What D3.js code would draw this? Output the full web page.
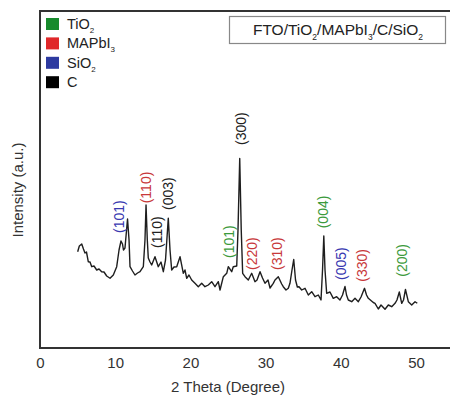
<!DOCTYPE html>
<html>
<head>
<meta charset="utf-8">
<script src="https://cdn.jsdelivr.net/npm/d3@7"></script>
<style>
  body { margin: 0; background: #fff; }
  svg { display: block; font-family: "Liberation Sans", Arial, sans-serif; }
</style>
</head>
<body>
<svg id="chart" width="450" height="397"></svg>
<script>
// XRD pattern (2 theta in degrees, intensity in a.u.)
var twoTheta = [5.01, 5.23, 5.55, 5.78, 5.98, 6.18, 6.42, 6.65, 6.88, 7.18, 7.54, 7.85, 8.20, 8.51, 8.87, 9.31, 9.75,
  10.20, 10.51, 10.77, 10.97, 11.10, 11.30, 11.64, 11.84, 11.97, 12.30, 12.63, 12.97, 13.30, 13.74, 13.96, 14.10,
  14.27, 14.40, 14.63, 14.85, 15.29, 15.73, 16.09, 16.40, 16.69, 17.06, 17.29, 17.51, 17.82, 18.18, 18.62, 19.06,
  19.28, 19.51, 19.81, 20.17, 20.61, 21.05, 21.50, 21.94, 22.38, 22.83, 23.27, 23.71, 23.94, 24.38, 24.83, 25.04,
  25.49, 25.70, 26.16, 26.33, 26.56, 26.76, 26.95, 27.26, 27.70, 28.15, 28.59, 28.86, 29.26, 29.59, 29.92, 30.32,
  30.59, 31.02, 31.25, 31.69, 32.14, 32.35, 32.71, 33.02, 33.24, 33.51, 33.74, 33.98, 34.22, 34.44, 34.80, 35.24,
  35.68, 36.13, 36.57, 37.01, 37.37, 37.57, 37.74, 37.90, 38.12, 38.56, 39.00, 39.45, 39.89, 40.23, 40.56, 40.76,
  41.00, 41.45, 41.89, 42.33, 42.69, 43.15, 43.42, 43.66, 44.32, 44.55, 44.99, 45.35, 45.88, 46.32, 46.77, 47.21,
  47.47, 47.78, 48.10, 48.34, 48.60, 48.98, 49.43, 49.87, 50.17];
var intensity = [96.3, 102, 104, 99, 95, 96, 86.3, 86, 81.3, 82, 78, 79, 76.3, 76, 72, 69.7, 73,
  81.3, 98, 107, 104, 98, 100, 129, 108, 81.3, 77, 73, 75, 76.3, 81.3, 108, 143,
  108, 90, 86, 83, 91.3, 81.3, 86, 76.3, 88, 129.7, 98, 78, 81, 81.3, 91.3, 74.7,
  78, 69.7, 73, 68, 64.7, 61.3, 64.7, 61.3, 63, 66.3, 61.3, 66.3, 58, 71.3, 74.7, 81.3,
  76.3, 81.3, 82, 118, 189.5, 118, 74.7, 71.3, 68, 74.7, 66.3, 68, 76.3, 70, 64.7, 68,
  60, 64.7, 68, 71.3, 64, 61.3, 58, 59.7, 64.7, 78, 88.5, 68, 61, 61.3, 58, 59.7,
  53, 56.3, 51.3, 53, 48, 78, 112, 78, 54.7, 56, 49.7, 51.3, 48, 53, 61.5, 53,
  48, 46.3, 49.7, 46.3, 51, 59.7, 53, 49.7, 45.5, 44.7, 39, 43, 38.7, 43, 41.3, 44.7,
  48, 56, 44.7, 48, 58.5, 46.3, 43, 46.3, 44.7];

// peak assignments: label, phase, 2 theta, intensity where the label starts
var peakLabels = ["(101)", "(110)", "(110)", "(003)", "(101)", "(300)", "(220)", "(310)", "(004)", "(005)", "(330)", "(200)"];
var peakPhases = ["SiO2", "MAPbI3", "C", "C", "TiO2", "C", "MAPbI3", "MAPbI3", "TiO2", "SiO2", "MAPbI3", "TiO2"];
var peakTheta = [10.57, 14.10, 15.63, 17.09, 25.13, 26.73, 28.26, 31.58, 37.63, 40.09, 42.89, 48.14];
var peakLevel = [115, 144.7, 100, 138, 90, 203, 78, 78, 119.7, 68, 66.3, 71.3];

var phases = ["TiO2", "MAPbI3", "SiO2", "C"];
var phaseBase = ["TiO", "MAPbI", "SiO", "C"];
var phaseSub = ["2", "3", "2", ""];
var xTicks = [0, 10, 20, 30, 40, 50];

var svg = d3.select("#chart");
var plotLeft = 40, plotTop = 11, plotBottom = 348;

var x = d3.scaleLinear().domain([0, 50]).range([plotLeft, 416]);
var y = d3.scaleLinear().domain([0, 337]).range([plotBottom, plotTop]);

var phaseColor = d3.scaleOrdinal().domain(phases).range(["#178a2c", "#e0282a", "#2d3aa0", "#000000"]);
var labelColor = d3.scaleOrdinal().domain(phases).range(["#3c9a3c", "#c8383a", "#3838b0", "#222222"]);

// frame (right side runs off the picture)
svg.append("path")
  .attr("d", "M" + x(56) + "," + plotTop + "H" + plotLeft + "V" + plotBottom + "H" + x(56))
  .attr("fill", "none")
  .attr("stroke", "#333")
  .attr("stroke-width", 2);

// x axis labels only, no ticks
var xAxis = d3.axisBottom(x).tickValues(xTicks).tickSize(0).tickPadding(9);
var gx = svg.append("g").attr("transform", "translate(0," + plotBottom + ")").call(xAxis);
gx.select(".domain").remove();
gx.selectAll("text").attr("font-size", 15).attr("fill", "#333").attr("font-family", "Liberation Sans, Arial, sans-serif");

svg.append("text")
  .attr("x", x(25))
  .attr("y", 392)
  .attr("text-anchor", "middle")
  .attr("font-size", 15)
  .attr("fill", "#333")
  .text("2 Theta (Degree)");

svg.append("text")
  .attr("transform", "translate(23,190) rotate(-90)")
  .attr("text-anchor", "middle")
  .attr("font-size", 15)
  .attr("fill", "#333")
  .text("Intensity (a.u.)");

// pattern
var pts = twoTheta.map(function (t, i) { return [t, intensity[i]]; });
var line = d3.line()
  .x(function (d) { return x(d[0]); })
  .y(function (d) { return y(d[1]); });

svg.append("path")
  .datum(pts)
  .attr("d", line)
  .attr("fill", "none")
  .attr("stroke", "#1e1e1e")
  .attr("stroke-width", 1.4)
  .attr("stroke-linejoin", "round");

// peak labels
svg.selectAll(".peak")
  .data(peakLabels)
  .enter().append("text")
  .attr("class", "peak")
  .attr("transform", function (d, i) {
    return "translate(" + x(peakTheta[i]) + "," + y(peakLevel[i]) + ") rotate(-90)";
  })
  .attr("dy", "0.35em")
  .attr("font-size", 14)
  .attr("fill", function (d, i) { return labelColor(peakPhases[i]); })
  .text(function (d) { return d; });

// legend
var legend = svg.selectAll(".legend")
  .data(phases)
  .enter().append("g")
  .attr("class", "legend")
  .attr("transform", function (d, i) { return "translate(46," + (18 + i * 19.4) + ")"; });

legend.append("rect")
  .attr("width", 13)
  .attr("height", 12)
  .attr("fill", function (d) { return phaseColor(d); });

var lt = legend.append("text")
  .attr("x", 21)
  .attr("y", 11)
  .attr("font-size", 14.5)
  .attr("fill", "#222");
lt.append("tspan").text(function (d, i) { return phaseBase[i]; });
lt.append("tspan")
  .attr("dy", 4)
  .attr("font-size", 8)
  .text(function (d, i) { return phaseSub[i]; });

// sample box
svg.append("rect")
  .attr("x", 229.5)
  .attr("y", 16.5)
  .attr("width", 216)
  .attr("height", 27)
  .attr("fill", "#fff")
  .attr("stroke", "#888")
  .attr("stroke-width", 1.2);

var sample = [["FTO/TiO", ""], ["2", "s"], ["/MAPbI", ""], ["3", "s"], ["/C/SiO", ""], ["2", "s"]];
var st = svg.append("text")
  .attr("x", 338)
  .attr("y", 35)
  .attr("text-anchor", "middle")
  .attr("font-size", 15.5)
  .attr("fill", "#222");
var prevSub = false;
sample.forEach(function (p) {
  var ts = st.append("tspan").text(p[0]);
  if (p[1] === "s") { ts.attr("font-size", 8.5).attr("dy", 5); prevSub = true; }
  else if (prevSub) { ts.attr("dy", -5); prevSub = false; }
});
</script>
</body>
</html>
